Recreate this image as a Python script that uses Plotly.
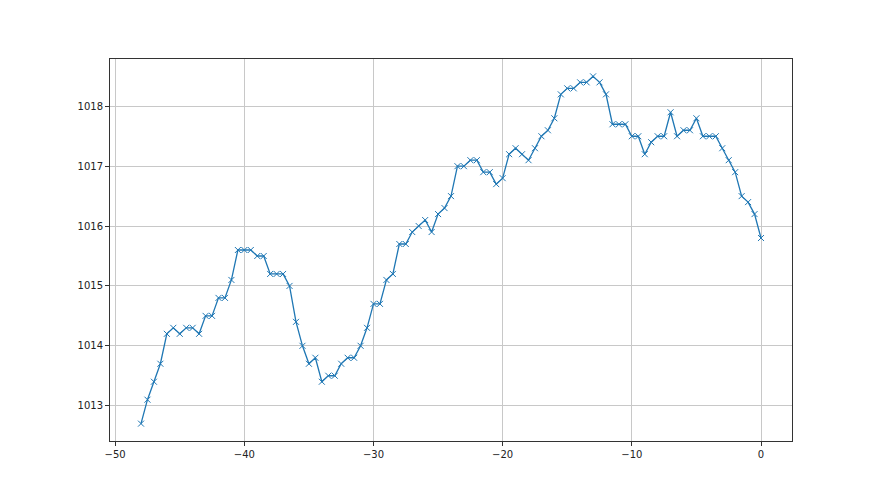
import plotly.graph_objects as go

x_values = [i * 0.5 - 48 for i in range(97)]
pressure = [
    1012.7, 1013.1, 1013.4, 1013.7, 1014.2, 1014.3, 1014.2, 1014.3, 1014.3, 1014.2,
    1014.5, 1014.5, 1014.8, 1014.8, 1015.1, 1015.6, 1015.6, 1015.6, 1015.5, 1015.5,
    1015.2, 1015.2, 1015.2, 1015.0, 1014.4, 1014.0, 1013.7, 1013.8, 1013.4, 1013.5,
    1013.5, 1013.7, 1013.8, 1013.8, 1014.0, 1014.3, 1014.7, 1014.7, 1015.1, 1015.2,
    1015.7, 1015.7, 1015.9, 1016.0, 1016.1, 1015.9, 1016.2, 1016.3, 1016.5, 1017.0,
    1017.0, 1017.1, 1017.1, 1016.9, 1016.9, 1016.7, 1016.8, 1017.2, 1017.3, 1017.2,
    1017.1, 1017.3, 1017.5, 1017.6, 1017.8, 1018.2, 1018.3, 1018.3, 1018.4, 1018.4,
    1018.5, 1018.4, 1018.2, 1017.7, 1017.7, 1017.7, 1017.5, 1017.5, 1017.2, 1017.4,
    1017.5, 1017.5, 1017.9, 1017.5, 1017.6, 1017.6, 1017.8, 1017.5, 1017.5, 1017.5,
    1017.3, 1017.1, 1016.9, 1016.5, 1016.4, 1016.2, 1015.8,
]
x_ticks = [-50, -40, -30, -20, -10, 0]
x_tick_labels = ["\u221250", "\u221240", "\u221230", "\u221220", "\u221210", "0"]
y_ticks = [1013, 1014, 1015, 1016, 1017, 1018]
y_tick_labels = ["1013", "1014", "1015", "1016", "1017", "1018"]

fig = go.Figure()
fig.add_trace(go.Scatter(
    x=x_values, y=pressure, mode="lines+markers",
    line=dict(color="#1f77b4", width=1.3),
    marker=dict(symbol="x-thin", size=6, line=dict(width=1, color="#1f77b4"), color="#1f77b4"),
    showlegend=False,
))

axis_common = dict(
    showline=True, linecolor="#333333", linewidth=1, mirror=True,
    showgrid=True, gridcolor="#c8c8c8", gridwidth=1,
    ticks="outside", ticklen=4, tickcolor="#333333", tickwidth=1,
    tickfont=dict(family="DejaVu Sans", size=10, color="#222222"),
    zeroline=False,
)
fig.update_xaxes(range=[-50.4, 2.4], tickvals=x_ticks, ticktext=x_tick_labels, **axis_common)
fig.update_yaxes(range=[1012.41, 1018.79], tickvals=y_ticks, ticktext=y_tick_labels, **axis_common)

fig.update_layout(
    width=872, height=487,
    margin=dict(l=102, r=88, t=51, b=54),
    paper_bgcolor="white", plot_bgcolor="white",
)
fig.write_html("out.html")
